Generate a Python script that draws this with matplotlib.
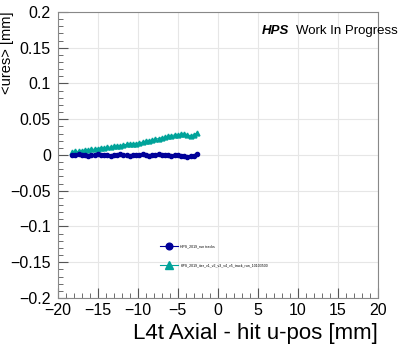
import matplotlib
matplotlib.use("Agg")
import matplotlib.pyplot as plt
from matplotlib.ticker import MultipleLocator

plt.rcParams['font.family'] = ['Liberation Sans', 'DejaVu Sans']

# hit u-position bins [mm]
u_pos = [-18.2, -17.8, -17.4, -17.0, -16.6, -16.2, -15.8, -15.4, -15.0, -14.6,
         -14.2, -13.8, -13.4, -13.0, -12.6, -12.2, -11.8, -11.4, -11.0, -10.6,
         -10.2, -9.8, -9.4, -9.0, -8.6, -8.2, -7.8, -7.4, -7.0, -6.6,
         -6.2, -5.8, -5.4, -5.0, -4.6, -4.2, -3.8, -3.4, -3.0, -2.6]

# mean residuals [mm]
ures_ref = [0.000, 0.000, 0.001, 0.000, 0.000, -0.001, 0.000, 0.000, 0.001, 0.000,
            0.000, 0.000, -0.001, 0.000, 0.000, 0.001, 0.000, 0.000, -0.001, 0.000,
            0.000, 0.000, 0.001, 0.000, -0.001, 0.000, 0.000, 0.001, 0.000, 0.000,
            0.000, -0.001, 0.000, 0.000, -0.001, -0.002, -0.003, -0.001, -0.002, 0.002]
ures_iter = [0.004, 0.005, 0.005, 0.006, 0.007, 0.007, 0.008, 0.008, 0.009, 0.010,
             0.010, 0.011, 0.011, 0.012, 0.013, 0.013, 0.014, 0.015, 0.015, 0.016,
             0.016, 0.017, 0.018, 0.019, 0.020, 0.021, 0.022, 0.023, 0.024, 0.025,
             0.026, 0.027, 0.028, 0.028, 0.029, 0.029, 0.028, 0.027, 0.028, 0.031]

labels = ["HPS_2019_run tracks",
          "HPS_2019_iter_v1_v2_v3_v4_v5_track_run_10103500"]

fig = plt.figure(figsize=(3.99, 3.51), dpi=100)
ax = fig.add_axes([0.145, 0.151, 0.802, 0.815])

ax.plot(u_pos, ures_ref, color='#000099', marker='o', markersize=3,
        lw=0.8, label=labels[0], zorder=3)
ax.plot(u_pos, ures_iter, color='#00a39a', marker='^', markersize=3.5,
        lw=0.8, label=labels[1], zorder=2)

ax.set_xlim(-20, 20)
ax.set_ylim(-0.2, 0.2)
ax.xaxis.set_major_locator(MultipleLocator(5))
ax.xaxis.set_minor_locator(MultipleLocator(1))
ax.yaxis.set_minor_locator(MultipleLocator(0.01))
ax.set_yticks([-0.2, -0.15, -0.1, -0.05, 0, 0.05, 0.1, 0.15, 0.2])
ax.set_yticklabels(['\u22120.2', '\u22120.15', '\u22120.1', '\u22120.05', '0',
                    '0.05', '0.1', '0.15', '0.2'])
ax.tick_params(which='both', direction='in', top=False, right=False,
               labelsize=11.5, color='#555555')
ax.tick_params(which='major', length=7)
ax.tick_params(which='minor', length=3.5)
ax.tick_params(axis='y', pad=5)
ax.grid(True, which='major', color='#e6e6e6', lw=0.8)
ax.set_axisbelow(True)
for s in ax.spines.values():
    s.set_color('#888888')
    s.set_linewidth(0.8)

ax.set_xlabel('L4t Axial - hit u-pos [mm]', fontsize=16, loc='right')
ax.set_ylabel('<ures> [mm]', fontsize=10.5, loc='top')
ax.yaxis.set_label_coords(-0.138, 1.0)

fig.text(0.657, 0.912, 'HPS', fontsize=9.5, fontweight='bold', style='italic',
         ha='left', va='center')
fig.text(0.742, 0.912, 'Work In Progress', fontsize=9.5, ha='left', va='center')

ax.legend(loc='upper left', bbox_to_anchor=(0.31, 0.2), frameon=False,
          fontsize=2.5, handlelength=5, labelspacing=4.5, markerscale=1.6)

fig.savefig('out.png', dpi=100)
